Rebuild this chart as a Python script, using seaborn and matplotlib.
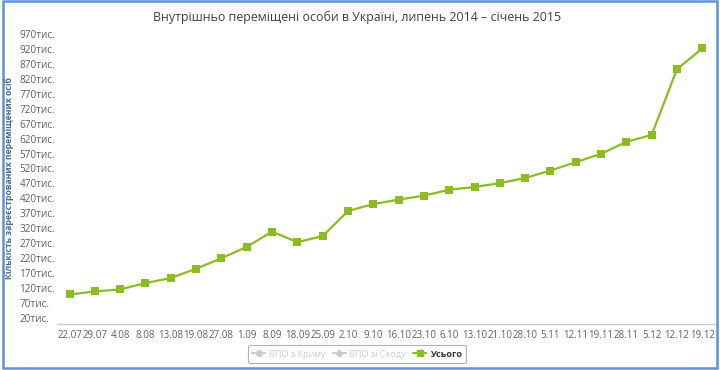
import numpy as np
import pandas as pd
import matplotlib.pyplot as plt
import seaborn as sns
from matplotlib.lines import Line2D
from matplotlib.patches import Rectangle

# -----------------------------
# Data
# -----------------------------
dates = ['22.07', '29.07', '4.08', '8.08', '13.08', '19.08', '27.08', '1.09',
         '8.09', '18.09', '25.09', '2.10', '9.10', '16.10', '23.10', '6.10',
         '13.10', '21.10', '28.10', '5.11', '12.11', '19.11', '28.11', '5.12',
         '12.12', '19.12']
total = [99, 109, 116, 137, 154, 185, 220, 258, 309, 274, 294, 378, 401, 416,
         429, 449, 458, 471, 488, 513, 541, 569, 609, 632, 852, 921]
y_ticks = list(range(20, 1000, 50))
legend_names = ['ВПО з Криму', 'ВПО зі Сходу', 'Усього']

df = pd.DataFrame({'idx': np.arange(len(dates)), 'total': total})

green = '#8bbc21'
grey_txt = '#606060'

sns.set_style('white')
plt.rcParams['font.family'] = ['Open Sans', 'DejaVu Sans']

fig = plt.figure(figsize=(7.2, 3.7), dpi=100)
ax = fig.add_axes([0.079, 0.124, 0.914, 0.809])

sns.lineplot(data=df, x='idx', y='total', ax=ax, color=green, lw=1.6,
             marker='s', markersize=5.5, markeredgewidth=0)

ax.set_xlim(-0.5, len(dates) - 0.5)
ax.set_ylim(0, 1000)

# x axis: labels under points, tick marks between categories
ax.set_xticks(np.arange(len(dates)))
ax.set_xticklabels(dates, fontsize=7, color=grey_txt)
ax.set_xticks(np.arange(-0.5, len(dates)), minor=True)
ax.tick_params(axis='x', which='major', length=0, pad=4)
ax.tick_params(axis='x', which='minor', length=3.5, color='#c0d0e0', width=0.8)

# y axis: labels left aligned, no grid
ax.set_yticks(y_ticks)
ax.set_yticklabels([f'{v}тис.' for v in y_ticks], fontsize=7.2, color=grey_txt, ha='left')
ax.tick_params(axis='y', length=0, pad=27)

for s in ['top', 'right', 'left']:
    ax.spines[s].set_visible(False)
ax.spines['bottom'].set_color('#c0d0e0')
ax.spines['bottom'].set_linewidth(1)

ax.set_xlabel('')
ax.set_ylabel('')
fig.text(0.0125, 0.52, 'Кількість зареєстрованих переміщених осіб', rotation=90,
         ha='center', va='center', fontsize=6.3, fontweight='bold', color='#4d6a8f')

fig.text(0.496, 0.953, 'Внутрішньо переміщені особи в Україні, липень 2014 – січень 2015',
         ha='center', va='center', fontsize=8.9, color='#3e3e50')

# legend (first two series are hidden, shown greyed out)
handles = [
    Line2D([], [], color='#cccccc', marker='o', markersize=4, lw=1.5),
    Line2D([], [], color='#cccccc', marker='D', markersize=3.5, lw=1.5),
    Line2D([], [], color=green, marker='s', markersize=5, lw=1.5),
]
leg = fig.legend(handles, legend_names, loc='center', bbox_to_anchor=(0.496, 0.043),
                 ncol=3, fontsize=6.6, frameon=True, fancybox=True, handlelength=1.4,
                 handletextpad=0.4, columnspacing=0.8, borderpad=0.45)
leg.get_frame().set_edgecolor('#a0a0a0')
leg.get_frame().set_linewidth(0.8)
for t, c in zip(leg.get_texts(), ['#cccccc', '#cccccc', '#333333']):
    t.set_color(c)
leg.get_texts()[2].set_fontweight('bold')

# blue frame around the chart
fig.add_artist(Rectangle((0.004, 0.006), 0.992, 0.99, transform=fig.transFigure,
                         fill=False, edgecolor='#5b93e0', lw=1.8))

fig.savefig('out.png', dpi=100)
